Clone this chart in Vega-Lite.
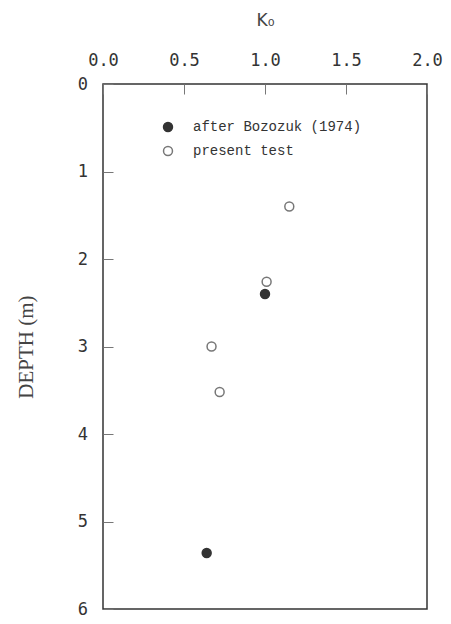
{
  "$schema": "https://vega.github.io/schema/vega-lite/v6.json",
  "autosize": "none",
  "width": 324,
  "height": 525,
  "padding": {"left": 103, "top": 84, "right": 24, "bottom": 15},
  "background": "white",
  "config": {
    "view": {"stroke": "#333", "strokeWidth": 1.5},
    "axis": {"grid": false, "domain": false, "tickColor": "#777", "tickWidth": 1, "labelColor": "#333", "titleColor": "#444", "labelFlush": false, "labelOverlap": false}
  },
  "data": {
    "values": [
      {"series": "after Bozozuk (1974)", "k0": 1.0, "depth": 2.40},
      {"series": "after Bozozuk (1974)", "k0": 0.64, "depth": 5.36},
      {"series": "present test", "k0": 1.15, "depth": 1.40},
      {"series": "present test", "k0": 1.01, "depth": 2.26},
      {"series": "present test", "k0": 0.67, "depth": 3.00},
      {"series": "present test", "k0": 0.72, "depth": 3.52}
    ]
  },
  "mark": {"type": "point", "filled": true, "size": 80, "strokeWidth": 1.5, "opacity": 1},
  "encoding": {
    "x": {
      "field": "k0", "type": "quantitative",
      "scale": {"domain": [0, 2], "nice": false, "zero": false},
      "axis": {
        "orient": "top", "title": "K₀", "values": [0, 0.5, 1, 1.5, 2], "format": ".1f",
        "offset": -10, "tickSize": 10, "labelPadding": 15, "labelFont": "DejaVu Sans Mono", "labelFontSize": 17,
        "titleFont": "DejaVu Sans", "titleFontSize": 17, "titleFontWeight": "normal", "titlePadding": 22
      }
    },
    "y": {
      "field": "depth", "type": "quantitative",
      "scale": {"domain": [0, 6], "reverse": true, "nice": false, "zero": false},
      "axis": {
        "orient": "left", "title": "DEPTH (m)", "values": [0, 1, 2, 3, 4, 5, 6], "format": "d",
        "offset": -10, "tickSize": 10, "labelPadding": 15.5, "labelFont": "DejaVu Sans Mono", "labelFontSize": 17,
        "titleFont": "Liberation Serif", "titleFontSize": 21, "titleFontWeight": "normal", "titlePadding": 41
      }
    },
    "fill": {
      "field": "series", "type": "nominal",
      "scale": {"domain": ["after Bozozuk (1974)", "present test"], "range": ["#333333", "#ffffff"]},
      "legend": {
        "orient": "none", "legendX": 58, "legendY": 36, "title": null, "padding": 0,
        "labelFont": "Liberation Mono", "labelFontSize": 14, "labelColor": "#333", "labelLimit": 0,
        "symbolSize": 80, "symbolStrokeWidth": 1.5, "rowPadding": 8, "labelOffset": 18
      }
    },
    "stroke": {
      "field": "series", "type": "nominal",
      "scale": {"domain": ["after Bozozuk (1974)", "present test"], "range": ["#333333", "#777777"]}
    }
  }
}
